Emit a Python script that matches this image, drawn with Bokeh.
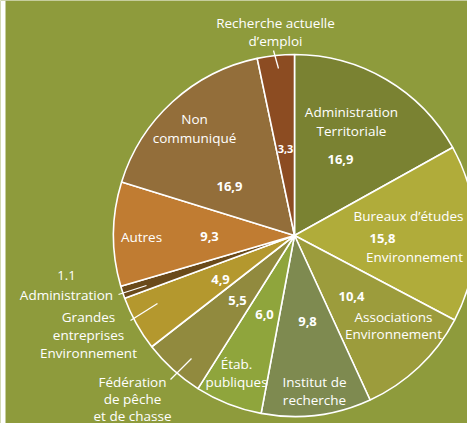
import numpy as np
from bokeh.plotting import figure
from bokeh.models import Range1d, ColumnDataSource
from bokeh.core.properties import value
from bokeh.embed import file_html
from bokeh.resources import INLINE

# ---- data ----
categories = ["Administration Territoriale", "Bureaux d'études Environnement",
              "Associations Environnement", "Institut de recherche",
              "Étab. publiques", "Fédération de pêche et de chasse",
              "Grandes entreprises Environnement", "Administration",
              "Autres", "Non communiqué", "Recherche actuelle d'emploi"]
values = [16.9, 15.8, 10.4, 9.8, 6.0, 5.5, 4.9, 1.1, 9.3, 16.9, 3.3]
value_labels = ["16,9", "15,8", "10,4", "9,8", "6,0", "5,5", "4,9", "1.1", "9,3", "16,9", "3,3"]
colors = ["#7a8232", "#b0ac3a", "#9c9c3c", "#7e8a50", "#8fa53c", "#918a3e",
          "#b4982e", "#6a4a1a", "#c07c32", "#936e3a", "#8c4c22"]

W, H = 467, 423
BG = "#8e9b3c"
FONT = "Open Sans"

def Y(py):
    return H - py

p = figure(width=W, height=H, output_backend="svg", toolbar_location=None,
           x_range=Range1d(0, W), y_range=Range1d(0, H), min_border=0)
p.axis.visible = False
p.grid.visible = False
p.outline_line_color = None
p.background_fill_color = BG
p.border_fill_color = BG

# white strip at left
p.quad(left=[0], right=[5], bottom=[0], top=[H], fill_color="white", line_color=None)

# pie
cx, cy, r = 294, Y(235), 181
tot = sum(values)
frac = np.array(values) / tot
cum = np.concatenate([[0], np.cumsum(frac)])
start = np.pi / 2 - cum[1:] * 2 * np.pi
end = np.pi / 2 - cum[:-1] * 2 * np.pi
src = ColumnDataSource(dict(start=start, end=end, color=colors))
p.wedge(x=cx, y=cy, radius=r, start_angle="start", end_angle="end",
        fill_color="color", line_color="white", line_width=1.6, source=src)

# leader lines (pixel coords)
leaders = [((273, 50), (278, 68)),
           ((118, 294), (146, 285)),
           ((130, 320), (157, 303)),
           ((170, 379), (191, 358))]
for (x0, y0), (x1, y1) in leaders:
    p.line([x0, x1], [Y(y0), Y(y1)], line_color="white", line_width=1.3)

def txt(x, y, s, size=13.5, bold=False):
    p.text(x=[x], y=[Y(y)], text=[s], text_color="white", text_align="center",
           text_baseline="middle", text_font=value(FONT),
           text_font_size=f"{size}px", text_font_style="bold" if bold else "normal")

# category labels
txt(275, 22, "Recherche actuelle")
txt(275, 40, "d’emploi")
txt(194, 118, "Non")
txt(194, 137, "communiqué")
txt(351, 111, "Administration")
txt(351, 130, "Territoriale")
txt(408, 215, "Bureaux d’études")
txt(414, 256, "Environnement")
txt(393, 316, "Associations")
txt(393, 333, "Environnement")
txt(314, 381, "Institut de")
txt(314, 399, "recherche")
txt(236, 363, "Étab.")
txt(236, 381, "publiques")
txt(141, 236, "Autres")
txt(66, 294, "Administration")
txt(88, 316, "Grandes")
txt(88, 334, "entreprises")
txt(88, 352, "Environnement")
txt(132, 381, "Fédération")
txt(132, 398, "de pêche")
txt(132, 415, "et de chasse")

# value labels
vpos = [(340, 159), (382, 238), (351, 296), (307, 321), (264, 314), (237, 300),
        (220, 279), (66, 275), (209, 236), (229, 186), (285, 148)]
for (x, y), s in zip(vpos, value_labels):
    txt(x, y, s, size=11 if s == "3,3" else 13, bold=(s != "1.1"))

open("out.html", "w").write(file_html(p, INLINE))
